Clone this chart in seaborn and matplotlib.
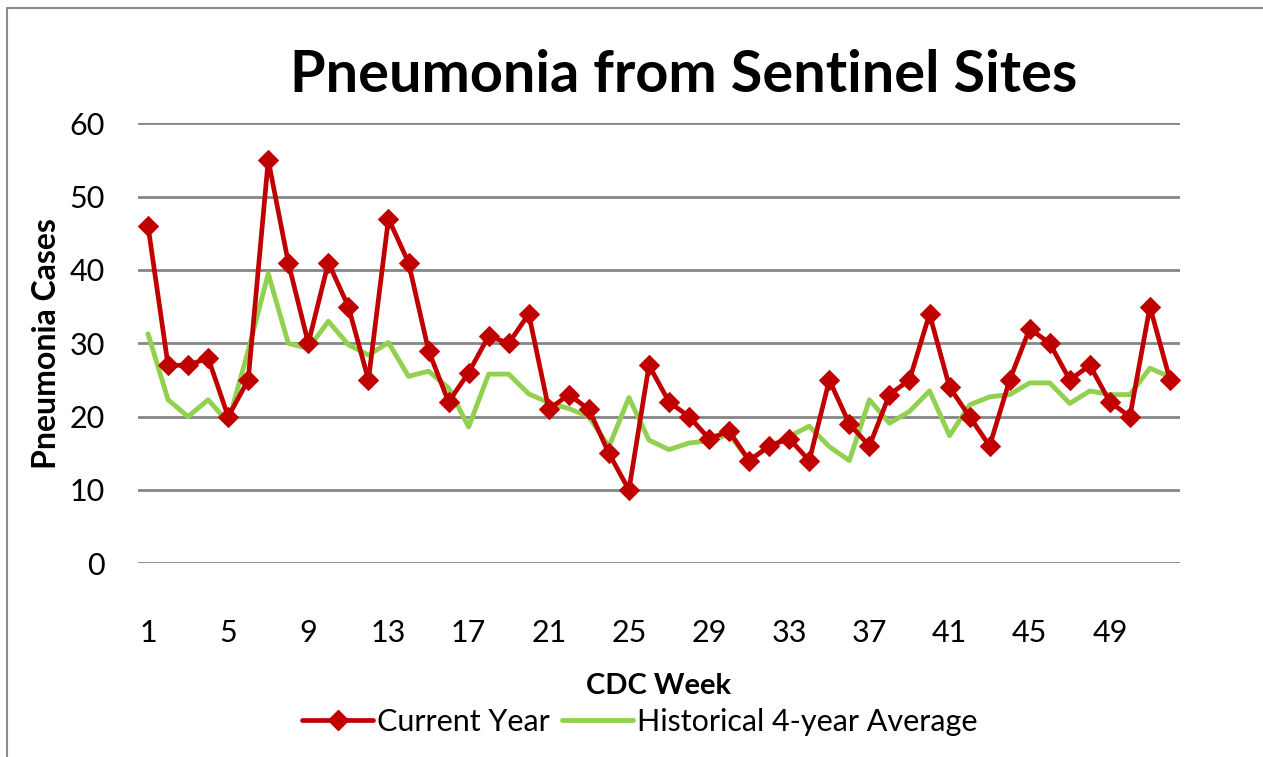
import matplotlib
matplotlib.use("Agg")
import matplotlib.pyplot as plt
import seaborn as sns
import numpy as np
import pandas as pd
from matplotlib.lines import Line2D

# Weekly data
weeks = list(range(1, 53))
current_year = [46, 27, 27, 28, 20, 25, 55, 41, 30, 41, 35, 25, 47, 41, 29, 22,
                26, 31, 30, 34, 21, 23, 21, 15, 10, 27, 22, 20, 17, 18, 14, 16,
                17, 14, 25, 19, 16, 23, 25, 34, 24, 20, 16, 25, 32, 30, 25, 27,
                22, 20, 35, 25]
hist_avg = [31.3, 22.3, 20.0, 22.3, 19.2, 29.0, 39.5, 30.0, 29.3, 33.0, 29.8, 28.4,
            30.1, 25.5, 26.2, 23.9, 18.6, 25.8, 25.8, 23.1, 21.9, 21.1, 20.0, 15.9,
            22.6, 16.8, 15.5, 16.4, 16.7, 17.6, 14.0, 15.9, 17.3, 18.7, 15.9, 14.0,
            22.3, 19.1, 20.7, 23.5, 17.4, 21.6, 22.7, 23.0, 24.6, 24.6, 21.8, 23.5,
            23.0, 23.0, 26.6, 25.4]
tick_weeks = list(range(1, 53, 4))

df = pd.DataFrame({"week": weeks, "current": current_year, "hist": hist_avg})

sns.set_theme(style="white")
plt.rcParams["font.family"] = ["Lato", "DejaVu Sans"]
plt.rcParams["text.color"] = "black"
plt.rcParams["axes.labelcolor"] = "black"

fig = plt.figure(figsize=(12.63, 7.57), dpi=100)
ax = fig.add_axes([138 / 1263, 1 - 563.3 / 757, (1180 - 138) / 1263, (563.3 - 123.3) / 757])

red = "#C00000"
green = "#92D050"

sns.lineplot(data=df, x="week", y="current", ax=ax, color=red, linewidth=3.4,
             marker="D", markersize=10, markeredgecolor=red, zorder=4)
sns.lineplot(data=df, x="week", y="hist", ax=ax, color=green, linewidth=3.5, zorder=3)

ax.set_xlim(0.5, 52.5)
ax.set_ylim(0, 60)
ax.set_yticks(range(0, 61, 10))
ax.set_xticks(tick_weeks)
ax.tick_params(axis="both", length=0, labelsize=22, colors="black")
ax.tick_params(axis="x", pad=40)
ax.tick_params(axis="y", pad=24)
ax.grid(axis="y", color="#868686", linewidth=2.0)
ax.set_axisbelow(True)
for s in ax.spines.values():
    s.set_visible(False)

ax.set_xlabel("CDC Week", fontsize=21, fontweight="bold", labelpad=19)
ax.set_ylabel("Pneumonia Cases", fontsize=23, fontweight="bold", labelpad=6)

fig.text(684 / 1263, 1 - 76 / 757, "Pneumonia from Sentinel Sites", ha="center",
         va="center", fontsize=41.5, fontweight="bold")

handles = [Line2D([0], [0], color=red, lw=3.4, marker="D", markersize=10),
           Line2D([0], [0], color=green, lw=3.5)]
fig.legend(handles, ["Current Year", "Historical 4-year Average"], loc="center",
           bbox_to_anchor=(640 / 1263, 1 - 722 / 757), ncol=2, frameon=False,
           fontsize=22, handlelength=2.3, handletextpad=0.15, columnspacing=0.4)

# outer chart border (top and left visible)
fig.add_artist(Line2D([7 / 1263, 1.0], [1 - 8 / 757, 1 - 8 / 757], color="#8c8c8c", lw=1.5))
fig.add_artist(Line2D([7 / 1263, 7 / 1263], [1 - 8 / 757, 0.0], color="#8c8c8c", lw=1.5))

fig.savefig("out.png", dpi=100)
